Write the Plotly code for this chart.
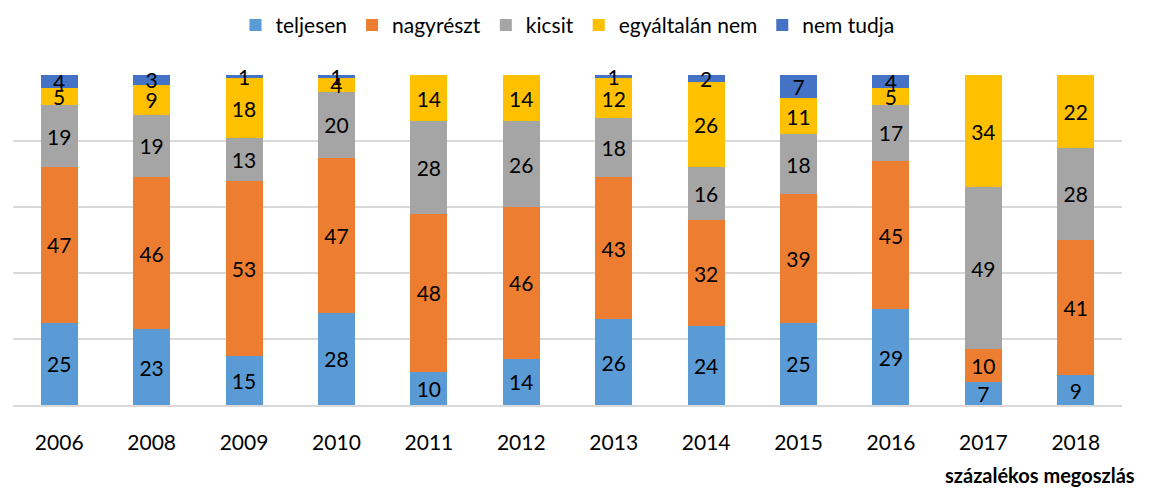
import plotly.graph_objects as go

years = ["2006", "2008", "2009", "2010", "2011", "2012", "2013", "2014", "2015", "2016", "2017", "2018"]
teljesen = [25, 23, 15, 28, 10, 14, 26, 24, 25, 29, 7, 9]
nagyreszt = [47, 46, 53, 47, 48, 46, 43, 32, 39, 45, 10, 41]
kicsit = [19, 19, 13, 20, 28, 26, 18, 16, 18, 17, 49, 28]
egyaltalan_nem = [5, 9, 18, 4, 14, 14, 12, 26, 11, 5, 34, 22]
nem_tudja = [4, 3, 1, 1, None, None, 1, 2, 7, 4, None, None]

series = [
    ("teljesen", teljesen, "#5B9BD5"),
    ("nagyrészt", nagyreszt, "#ED7D31"),
    ("kicsit", kicsit, "#A5A5A5"),
    ("egyáltalán nem", egyaltalan_nem, "#FFC000"),
    ("nem tudja", nem_tudja, "#4472C4"),
]

FONT = "Lato, Carlito, Calibri, sans-serif"
FS = 21

fig = go.Figure()
for name, vals, col in series:
    fig.add_trace(go.Bar(
        x=years, y=vals, name=name,
        marker=dict(color=col, line=dict(width=0)),
        text=[("" if v is None else str(v)) for v in vals],
        textposition="inside", insidetextanchor="middle", textangle=0,
        textfont=dict(color="black", size=FS, family=FONT),
        cliponaxis=False,
    ))

fig.update_layout(
    barmode="stack",
    bargap=0.6,
    width=1149, height=489,
    margin=dict(l=13, r=27, t=75, b=84, autoexpand=False),
    paper_bgcolor="white", plot_bgcolor="white",
    font=dict(family=FONT, size=FS, color="black"),
    uniformtext=dict(minsize=FS, mode="show"),
    legend=dict(orientation="h", x=0.5, xanchor="center", y=0.99, yref="container",
                yanchor="top", font=dict(size=FS), traceorder="normal",
                itemwidth=30, tracegroupgap=0),
    xaxis=dict(showgrid=False, showline=True, linecolor="#D9D9D9", linewidth=1.5,
               ticks="", ticklabelstandoff=18, tickfont=dict(size=FS)),
    yaxis=dict(range=[0, 100], dtick=20, showticklabels=False, showgrid=True,
               gridcolor="#D9D9D9", gridwidth=1.5, zeroline=False),
    annotations=[dict(text="<b>százalékos megoszlás</b>", xref="paper", yref="paper",
                      x=1.0135, y=-0.212, xanchor="right", yanchor="middle",
                      showarrow=False, font=dict(size=FS - 1))],
)

fig.write_html("out.html", config={"displayModeBar": False},
               post_script="document.body.style.margin='0';document.body.style.overflow='hidden';")
